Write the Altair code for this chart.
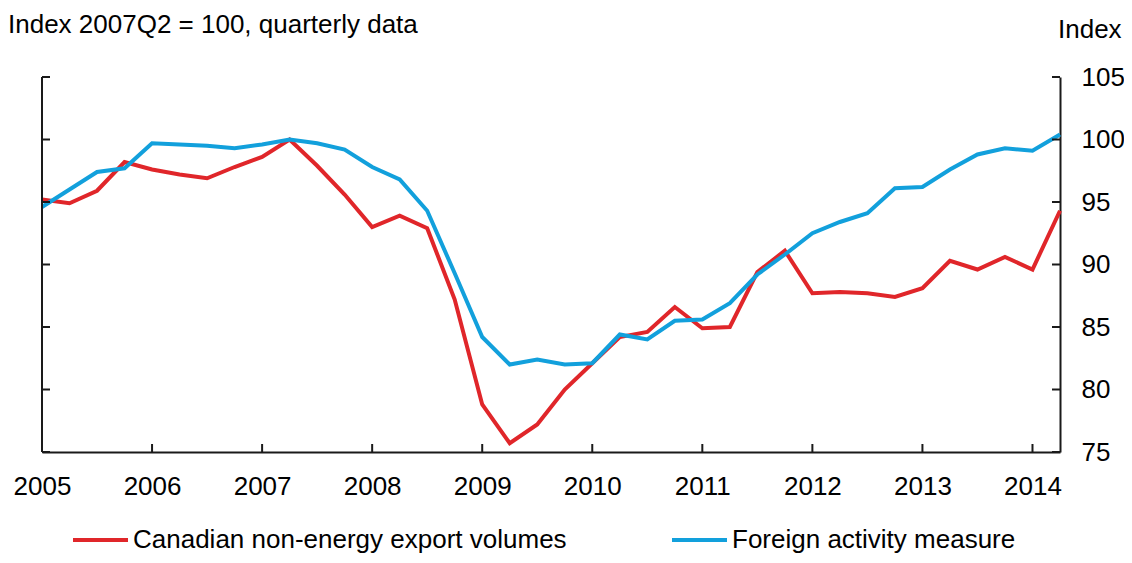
import altair as alt
import pandas as pd

# ---- data (quarterly, 2005Q1 .. 2014Q2) ----
quarters = [f"{y}Q{q}" for y in range(2005, 2015) for q in range(1, 5)][:38]

exports = [95.2, 94.9, 95.9, 98.2, 97.6, 97.2, 96.9, 97.8, 98.6, 100.0,
           97.9, 95.6, 93.0, 93.9, 92.9, 87.2, 78.8, 75.7, 77.2, 80.0,
           82.1, 84.2, 84.6, 86.6, 84.9, 85.0, 89.4, 91.1, 87.7, 87.8,
           87.7, 87.4, 88.1, 90.3, 89.6, 90.6, 89.6, 94.3]

foreign = [94.6, 96.0, 97.4, 97.7, 99.7, 99.6, 99.5, 99.3, 99.6, 100.0,
           99.7, 99.2, 97.8, 96.8, 94.3, 89.3, 84.2, 82.0, 82.4, 82.0,
           82.1, 84.4, 84.0, 85.5, 85.6, 86.9, 89.2, 90.8, 92.5, 93.4,
           94.1, 96.1, 96.2, 97.6, 98.8, 99.3, 99.1, 100.4]

series_names = ["Canadian non-energy export volumes", "Foreign activity measure"]
series_colors = ["#E0262A", "#12A0DC"]
year_ticks = list(range(2005, 2015))
y_ticks = [75, 80, 85, 90, 95, 100, 105]
title_text = "Index 2007Q2 = 100, quarterly data"
unit_text = "Index"

# ---- build tables ----
t = [int(q[:4]) + (int(q[-1]) - 1) / 4 for q in quarters]
df_exp = pd.DataFrame({"t": t, "value": exports, "series": series_names[0]})
df_for = pd.DataFrame({"t": t, "value": foreign, "series": series_names[1]})
df_xt = pd.DataFrame({"t": year_ticks[1:]})
df_yt = pd.DataFrame({"value": y_ticks})

W, H = 1018, 375
FONT = "Liberation Sans"
FS = 26
AXC = "#1a1a1a"

xscale = alt.Scale(domain=[2005, 2014.25], nice=False, zero=False)
yscale = alt.Scale(domain=[75, 105], nice=False, zero=False)

x_axis = alt.Axis(values=year_ticks, format="d", title=None, labelFontSize=FS,
                  labelFont=FONT, labelColor="black", labelPadding=21, tickSize=0,
                  domainColor=AXC, domainWidth=2, grid=False, labelFlush=False,
                  labelOverlap=False)
y_axis = alt.Axis(orient="right", values=y_ticks, title=None, labelFontSize=FS,
                  labelFont=FONT, labelColor="black", labelPadding=21, tickSize=0,
                  domainColor=AXC, domainWidth=2, grid=False, labelFlush=False,
                  labelOverlap=False)

X = alt.X("t:Q", scale=xscale, axis=x_axis)
Y = alt.Y("value:Q", scale=yscale, axis=y_axis)

line_exp = alt.Chart(df_exp).mark_line(strokeWidth=4, color=series_colors[0]).encode(x=X, y=Y)
line_for = alt.Chart(df_for).mark_line(strokeWidth=4, color=series_colors[1]).encode(x=X, y=Y)

left_domain = alt.Chart(df_yt).mark_rule(color=AXC, strokeWidth=2).encode(
    x=alt.value(0), y=alt.value(0), y2=alt.value(H)
)
left_ticks = alt.Chart(df_yt).mark_rule(color=AXC, strokeWidth=2).encode(
    y=Y, x=alt.value(0), x2=alt.value(8)
)
right_ticks = alt.Chart(df_yt).mark_rule(color=AXC, strokeWidth=2).encode(
    y=Y, x=alt.value(W - 8), x2=alt.value(W)
)
bottom_ticks = alt.Chart(df_xt).mark_rule(color=AXC, strokeWidth=2).encode(
    x=X, y=alt.value(H - 8), y2=alt.value(H)
)

title_mark = alt.Chart(pd.DataFrame({"label": [title_text]})).mark_text(
    align="left", baseline="alphabetic", fontSize=FS, font=FONT, color="black"
).encode(x=alt.value(-34), y=alt.value(-44), text="label:N")

unit_mark = alt.Chart(pd.DataFrame({"label": [unit_text]})).mark_text(
    align="left", baseline="alphabetic", fontSize=FS, font=FONT, color="black"
).encode(x=alt.value(1016), y=alt.value(-39), text="label:N")

# ---- legend (drawn by hand, below the plot) ----
LEG_Y = 463
leg_x = [31, 630]
leg_layers = []
for name, col, lx in zip(series_names, series_colors, leg_x):
    leg_layers.append(
        alt.Chart(pd.DataFrame({"label": [name]})).mark_rule(color=col, strokeWidth=4).encode(
            x=alt.value(lx), x2=alt.value(lx + 55), y=alt.value(LEG_Y)
        )
    )
    leg_layers.append(
        alt.Chart(pd.DataFrame({"label": [name]})).mark_text(
            align="left", baseline="middle", fontSize=FS, font=FONT, color="black"
        ).encode(x=alt.value(lx + 60), y=alt.value(LEG_Y), text="label:N")
    )

chart = alt.layer(
    line_exp, line_for, left_domain, left_ticks, right_ticks, bottom_ticks,
    title_mark, unit_mark, *leg_layers
).properties(
    width=W, height=H,
    autosize=alt.AutoSizeParams(type="none"),
    padding={"left": 34, "top": 69, "right": 64, "bottom": 103},
).configure(background="white").configure_view(strokeWidth=0)

chart.save("out.html", embed_options={"renderer": "svg", "actions": False})
